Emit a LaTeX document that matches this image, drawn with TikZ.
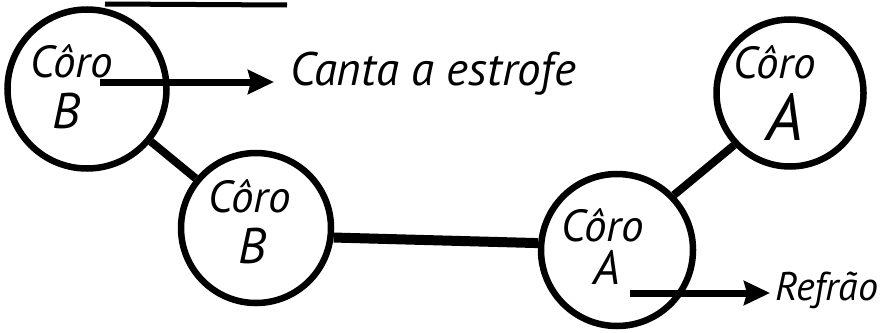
\documentclass[tikz,border=0pt]{standalone}
\usepackage{fontspec}
\setmainfont{PT Sans}
\usetikzlibrary{arrows.meta}
\begin{document}
\begin{tikzpicture}[x=1pt,y=-1pt,
  choir/.style={circle,draw,line width=6.5pt,inner sep=0pt},
  link/.style={line width=8pt},
  wide/.style={line width=10pt},
  lbl/.style={anchor=base west,inner sep=0pt,font=\itshape\fontsize{45}{47}\selectfont},
  letter/.style={anchor=base,inner sep=0pt,font=\itshape\fontsize{50}{52}\selectfont},
  note/.style={anchor=base west,inner sep=0pt,font=\itshape\fontsize{47}{49}\selectfont},
  flow/.style={line width=7pt,-{Stealth[length=26pt,width=24pt,inset=3pt]}}]
\useasboundingbox (0,0) rectangle (882,332);
% underline of cropped title
\coordinate (u1) at (105,4);
\coordinate (u2) at (287,5);
\draw[line width=5pt] (u1) -- (u2);
% circles
\node[choir,minimum size=159pt] (b1) at (87,89) {};
\node[choir,minimum size=150pt] (b2) at (256,228) {};
\node[choir,minimum size=152pt] (a1) at (617,250) {};
\node[choir,minimum size=147pt] (a2) at (790,93) {};
% links
\draw[link] (b1) -- (b2);
\draw[wide] (b2.-7) -- (a1.175);
\draw[link] (a1.44) -- (a2.223);
% labels
\node[lbl] (b1t) at (30,77) {Côro};
\node[letter] (b1l) at (66,128) {B};
\node[lbl] (b2t) at (208,212) {Côro};
\node[letter] (b2l) at (252,263) {B};
\node[lbl] (a1t) at (561,241) {Côro};
\node[letter,font=\itshape\fontsize{48}{50}\selectfont] (a1l) at (607,284) {A};
\node[lbl] (a2t) at (733,78) {Côro};
\node[letter,font=\itshape\fontsize{66}{68}\selectfont] (a2l) at (785,140) {A};
% notes and arrows
\node[note] (canta) at (290,85) {Canta a estrofe};
\node[note,font=\itshape\fontsize{40}{42}\selectfont] (refrao) at (775,300) {Refrão};
\coordinate (s1) at (100,82);
\coordinate (s2) at (630,293);
\draw[flow,shorten >=16pt] (s1) -- (s1 -| canta.west);
\draw[flow,shorten >=5pt] (s2) -- (s2 -| refrao.west);
\end{tikzpicture}
\end{document}
